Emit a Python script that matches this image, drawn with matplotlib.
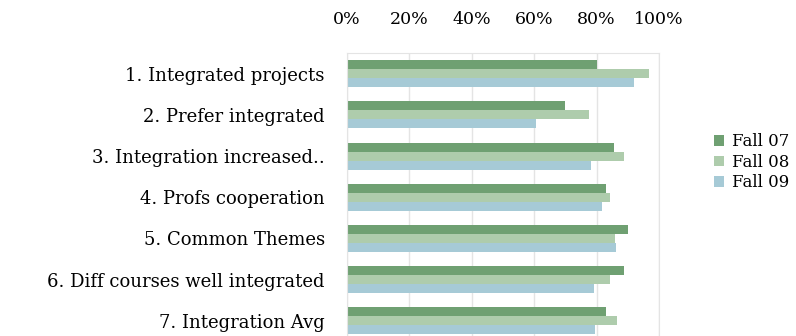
import matplotlib.pyplot as plt
import numpy as np
from matplotlib.ticker import PercentFormatter

plt.rcParams['font.family'] = ['DejaVu Serif']

categories = ['1. Integrated projects', '2. Prefer integrated',
              '3. Integration increased..', '4. Profs cooperation',
              '5. Common Themes', '6. Diff courses well integrated',
              '7. Integration Avg']
series_names = ['Fall 07', 'Fall 08', 'Fall 09']
fall07 = [0.80, 0.70, 0.856, 0.829, 0.90, 0.886, 0.829]
fall08 = [0.967, 0.776, 0.889, 0.842, 0.859, 0.842, 0.864]
fall09 = [0.92, 0.605, 0.781, 0.817, 0.861, 0.793, 0.795]
colors = ['#6fa072', '#aeccac', '#a6cad6']

fig = plt.figure(figsize=(7.96, 3.36), dpi=100)
ax = fig.add_axes([0.436, -0.016, 0.392, 0.858])

y = np.arange(len(categories))
h = 0.218
for i, (vals, name, c) in enumerate(zip([fall07, fall08, fall09], series_names, colors)):
    ax.barh(y + (i - 1) * h, vals, height=h, color=c, label=name, zorder=2)

ax.set_xlim(0, 1)
ax.set_ylim(len(categories) - 0.5, -0.5)
ax.set_xticks(np.arange(0, 1.01, 0.2))
ax.xaxis.set_major_formatter(PercentFormatter(1.0, decimals=0))
ax.xaxis.tick_top()
ax.tick_params(axis='x', length=0, pad=18, labelsize=12.5)
ax.set_yticks(y)
ax.set_yticklabels(categories)
ax.tick_params(axis='y', length=0, pad=16, labelsize=13)
ax.grid(axis='x', color='#e4e4e4', linewidth=1, zorder=0)
for s in ax.spines.values():
    s.set_color('#e4e4e4')

leg = ax.legend(loc='upper left', bbox_to_anchor=(1.15, 0.75), frameon=False,
                fontsize=12, handlelength=0.6, handleheight=0.6,
                handletextpad=0.45, labelspacing=0.2, borderpad=0)

fig.savefig('out.png', dpi=100)
